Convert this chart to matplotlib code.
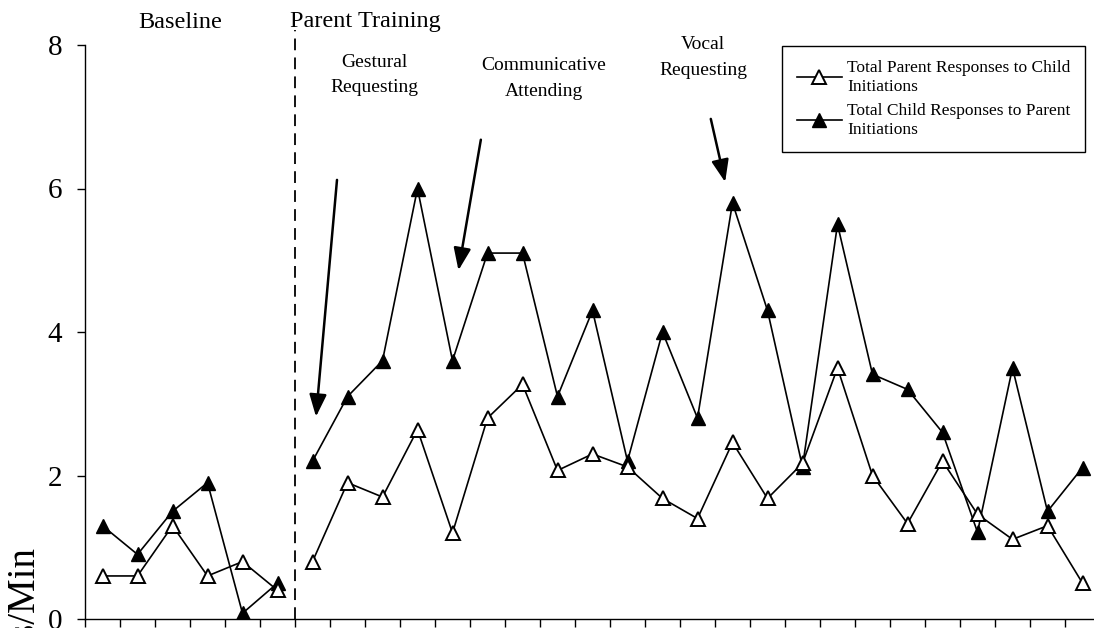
import matplotlib
matplotlib.use('Agg')
import matplotlib.pyplot as plt
import numpy as np

# ---- data ----
baseline_parent = [0.6, 0.6, 1.3, 0.6, 0.8, 0.4]
baseline_child = [1.3, 0.9, 1.5, 1.9, 0.08, 0.5]
training_parent = [0.8, 1.9, 1.7, 2.64, 1.2, 2.8, 3.27, 2.07, 2.3, 2.12, 1.68, 1.4,
                   2.46, 1.68, 2.17, 3.5, 2.0, 1.33, 2.2, 1.46, 1.11, 1.3, 0.5]
training_child = [2.2, 3.1, 3.6, 6.0, 3.6, 5.1, 5.1, 3.1, 4.3, 2.2, 4.0, 2.8,
                  5.8, 4.3, 2.12, 5.5, 3.41, 3.2, 2.6, 1.21, 3.5, 1.5, 2.11]
y_ticks = [0, 2, 4, 6, 8]
phase_labels = ["Baseline", "Parent Training"]
series_labels = ["Total Parent Responses to Child\nInitiations",
                 "Total Child Responses to Parent\nInitiations"]
annot_labels = ["Gestural\nRequesting", "Communicative\nAttending", "Vocal\nRequesting"]

plt.rcParams['font.family'] = ['Liberation Serif', 'DejaVu Serif']

W, H = 1094, 628
fig = plt.figure(figsize=(W / 100, H / 100), dpi=100)

def fx(px):
    return px / W

def fy(py):
    return 1 - py / H

ax = fig.add_axes([fx(85), fy(619), fx(1100) - fx(85), fy(45) - fy(619)])

n_base = len(baseline_parent)
n_train = len(training_parent)
xb = np.arange(n_base)
xt = np.arange(n_base, n_base + n_train)

ms = 10
lw = 1.2
open_kw = dict(color='black', lw=lw, marker='^', ms=ms, mfc='white', mec='black', mew=1.4)
fill_kw = dict(color='black', lw=lw, marker='^', ms=ms, mfc='black', mec='black', mew=1.0)

ax.plot(xb, baseline_child, zorder=3, **fill_kw)
ax.plot(xb, baseline_parent, zorder=4, **open_kw)
l2, = ax.plot(xt, training_child, zorder=3, **fill_kw)
l1, = ax.plot(xt, training_parent, zorder=4, **open_kw)

# phase change line
ax.plot([n_base - 0.5, n_base - 0.5], [0, 8.21], color='black', lw=1.3,
        ls=(0, (6.5, 4.0)), clip_on=False, zorder=2)

ax.set_xlim(-0.5, n_base + n_train - 0.5)
ax.set_ylim(0, 8)
ax.set_xticks(np.arange(-0.5, n_base + n_train, 1))
ax.set_xticklabels([])
ax.set_yticks(y_ticks)
ax.set_yticklabels([str(v) for v in y_ticks], fontsize=21)
ax.tick_params(axis='both', direction='out', length=5.5, width=1.0, color='black')
ax.tick_params(axis='y', pad=11)
for s in ['top', 'right']:
    ax.spines[s].set_visible(False)
for s in ['left', 'bottom']:
    ax.spines[s].set_linewidth(1.0)
    ax.spines[s].set_color('black')

# phase labels
fig.text(fx(180), fy(22), phase_labels[0], fontsize=17.5, ha='center', va='center')
fig.text(fx(290), fy(22), phase_labels[1], fontsize=17.5, ha='left', va='center')

# condition annotations
fig.text(fx(374), fy(75), annot_labels[0], fontsize=14, ha='center', va='center', linespacing=1.62)
fig.text(fx(544), fy(78.5), annot_labels[1], fontsize=14, ha='center', va='center', linespacing=1.62)
fig.text(fx(703), fy(57.5), annot_labels[2], fontsize=14, ha='center', va='center', linespacing=1.62)

# arrows (data coordinates)
arrow_kw = dict(arrowstyle='-|>,head_length=0.9,head_width=0.35', lw=1.8, color='black',
                mutation_scale=15, shrinkA=0, shrinkB=0)
ax.annotate('', xy=(6.1, 2.82), xytext=(6.70, 6.12), arrowprops=arrow_kw, annotation_clip=False)
ax.annotate('', xy=(10.17, 4.86), xytext=(10.81, 6.68), arrowprops=arrow_kw, annotation_clip=False)
ax.annotate('', xy=(17.79, 6.09), xytext=(17.38, 6.97), arrowprops=arrow_kw, annotation_clip=False)

# legend
leg = ax.legend([l1, l2], series_labels, loc='upper left',
                bbox_to_anchor=(fx(782), fy(45.5)), bbox_transform=fig.transFigure,
                fontsize=12.5, frameon=True, fancybox=False, framealpha=1,
                edgecolor='black', borderpad=0.85, handlelength=2.6, handletextpad=0.3,
                labelspacing=0.5, borderaxespad=0)
leg.get_frame().set_linewidth(1.0)

# y label (cut off at bottom as in the original)
fig.text(fx(24), fy(546), "Responses/Min", rotation=90, fontsize=28, ha='center', va='top')

fig.savefig('out.png', dpi=100)
